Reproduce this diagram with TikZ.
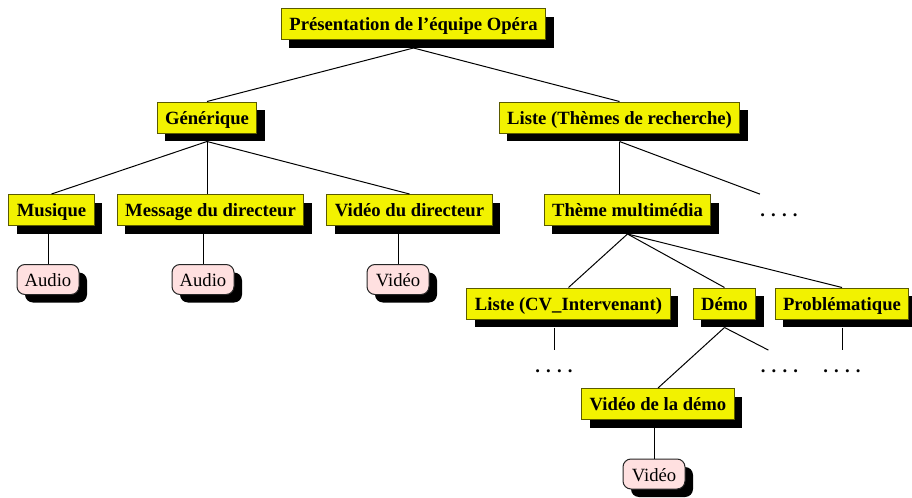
\documentclass[tikz,border=0pt]{standalone}
\usepackage{fontspec}
\setmainfont{Liberation Serif}
\usetikzlibrary{shadows}
\definecolor{boxyellow}{RGB}{242,242,0}
\definecolor{boxedge}{RGB}{90,90,0}
\definecolor{mediapink}{RGB}{255,224,224}
\tikzset{%
  topic/.style={
    rectangle,
    draw=boxedge,
    fill=boxyellow,
    line width=0.5pt,
    inner xsep=4pt,
    inner ysep=0pt,
    text height=8pt,
    text depth=1.3pt,
    minimum height=15.5pt,
    font=\fontsize{9.33pt}{11pt}\selectfont\bfseries,
    drop shadow={shadow xshift=4pt, shadow yshift=-4pt, fill=black, opacity=1}
  },
  media/.style={
    rectangle,
    rounded corners=4pt,
    draw=black!85,
    fill=mediapink,
    line width=0.5pt,
    inner sep=0pt,
    text height=8.5pt,
    text depth=1.3pt,
    minimum width=31pt,
    minimum height=15pt,
    font=\fontsize{9.33pt}{11pt}\selectfont,
    drop shadow={shadow xshift=4pt, shadow yshift=-4pt, fill=black, opacity=1}
  },
  more/.style={
    inner sep=0pt,
    text height=8pt,
    text depth=1.3pt,
    minimum height=15.5pt,
    font=\fontsize{9.33pt}{11pt}\selectfont\bfseries
  },
  link/.style={
    line width=0.5pt
  }
}

\begin{document}
\begin{tikzpicture}[x=0.5pt, y=-0.5pt]
		\useasboundingbox (0,0) rectangle (912,498);
		% root
		\node[topic] (top) at (413.5,24) {Présentation de l'équipe Opéra};
		% second level
		\node[topic] (gen) at (207,117.5) {Générique};
		\node[topic] (liste) at (619.5,117.5) {Liste (Thèmes de recherche)};
		% third level
		\node[topic] (mus) at (51.5,210) {Musique};
		\node[topic] (msg) at (210.5,210) {Message du directeur};
		\node[topic] (vdir) at (409.5,210) {Vidéo du directeur};
		\node[topic] (theme) at (627.5,210) {Thème multimédia};
		\node[more] (ldots) at (779,210) {. . . .};
		% media of the generic part
		\node[media] (audioa) at (48,279.5) {Audio};
		\node[media] (audiob) at (203,279.5) {Audio};
		\node[media] (videoa) at (398,279.5) {Vidéo};
		% fourth level
		\node[topic] (cv) at (568.5,303.5) {Liste (CV\_Intervenant)};
		\node[topic] (demo) at (724.5,303.5) {Démo};
		\node[topic] (prob) at (842,303.5) {Problématique};
		\node[more] (cvdots) at (554,366) {. . . .};
		\node[more] (ddots) at (779.5,366) {. . . .};
		\node[more] (pdots) at (842,366) {. . . .};
		% demo part
		\node[topic] (vdd) at (658,404) {Vidéo de la démo};
		\node[media] (videob) at (654,474) {Vidéo};
		% root links
		\draw[link] ([yshift=-4pt]top.south) -- (gen.north);
		\draw[link] ([yshift=-4pt]top.south) -- (liste.north);
		% generic links
		\draw[link] ([yshift=-4pt]gen.south) -- (mus.north);
		\draw[link] ([yshift=-4pt]gen.south) -- (gen.south |- msg.north);
		\draw[link] ([yshift=-4pt]gen.south) -- (vdir.north);
		\draw[link] (audioa.north |- mus.south) ++(0,-4pt) -- (audioa.north);
		\draw[link] (audiob.north |- msg.south) ++(0,-4pt) -- (audiob.north);
		\draw[link] (videoa.north |- vdir.south) ++(0,-4pt) -- (videoa.north);
		% research links
		\draw[link] ([yshift=-4pt]liste.south) -- (liste.south |- theme.north);
		\draw[link] ([yshift=-4pt]liste.south) -- (ldots.north west);
		\draw[link] ([yshift=-4pt]theme.south) -- (cv.north);
		\draw[link] ([yshift=-4pt]theme.south) -- (demo.north);
		\draw[link] ([yshift=-4pt]theme.south) -- (prob.north);
		\draw[link] (cvdots.north |- cv.south) ++(0,-4pt) -- (cvdots.north);
		\draw[link] (pdots.north |- prob.south) ++(0,-4pt) -- (pdots.north);
		\draw[link] ([yshift=-4pt]demo.south) -- (vdd.north);
		\draw[link] ([yshift=-4pt]demo.south) -- ([xshift=4pt]ddots.north west);
		\draw[link] (videob.north |- vdd.south) ++(0,-4pt) -- (videob.north);
\end{tikzpicture}
\end{document}
